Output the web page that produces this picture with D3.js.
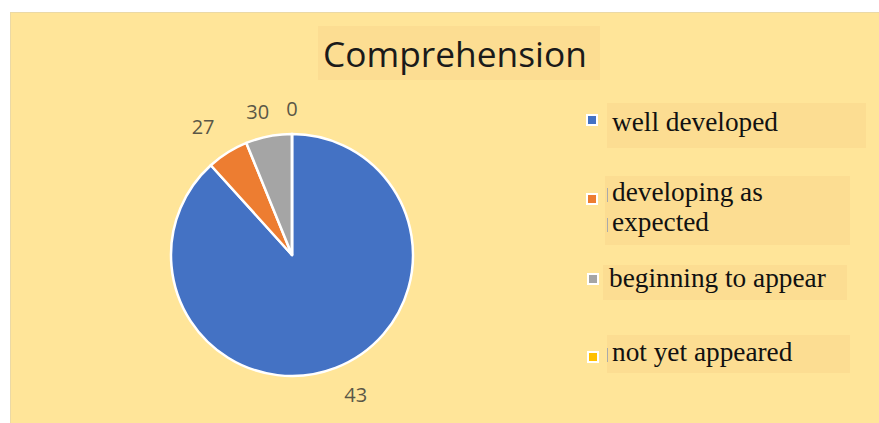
<!DOCTYPE html>
<html><head><meta charset="utf-8">
<script src="https://cdn.jsdelivr.net/npm/d3@7"></script>
<style>html,body{margin:0;padding:0;background:#fff;}svg{display:block;}</style>
</head><body>
<svg id="chart" width="879" height="423"></svg>
<script>
// Data
const categories = ["well developed", "developing as expected", "beginning to appear", "not yet appeared"];
const values = [43, 2.7, 3.0, 0];
const valueLabels = ["43", "27", "30", "0"];
const legendLines = [["well developed"], ["developing as", "expected"], ["beginning to appear"], ["not yet appeared"]];
const colors = ["#4472C4", "#ED7D31", "#A5A5A5", "#FFC000"];
const title = "Comprehension";

const svg = d3.select("#chart");
// panel background
svg.append("rect").attr("x", 10.5).attr("y", 12.5).attr("width", 880).attr("height", 420)
  .attr("fill", "#FFE599").attr("stroke", "#EBD9A6").attr("stroke-width", 1);

// title
svg.append("rect").attr("x", 318).attr("y", 26).attr("width", 282).attr("height", 54).attr("fill", "#FCDD92");
const t = svg.append("text").attr("x", 323).attr("y", 67)
  .attr("font-family", "'Open Sans', sans-serif").attr("font-size", 34).attr("fill", "#1a1a1a").text(title);
const tw = t.node().getComputedTextLength();
t.attr("font-size", 34 * 264 / tw);

// pie
const cx = 292, cy = 255, r = 121;
const pie = d3.pie().sort(null).value(d => d).startAngle(0).endAngle(2 * Math.PI);
const arcs = pie(values);
const arc = d3.arc().innerRadius(0).outerRadius(r);
const labelArc = d3.arc().innerRadius(152).outerRadius(152);
const g = svg.append("g").attr("transform", `translate(${cx},${cy})`);
g.selectAll("path.slice").data(arcs).join("path").attr("class", "slice")
  .attr("d", arc).attr("fill", (d, i) => colors[i])
  .attr("stroke", "#fff").attr("stroke-width", 2.5).attr("stroke-linejoin", "round");
const labelShift = [[9, -2], [-8, 1], [-5, 6], [0, 6]];
g.selectAll("text.lbl").data(arcs).join("text").attr("class", "lbl")
  .attr("transform", (d, i) => { const c = labelArc.centroid(d); return `translate(${c[0] + labelShift[i][0]},${c[1] + labelShift[i][1]})`; })
  .attr("text-anchor", "middle").attr("dy", "0.35em")
  .attr("font-family", "'Open Sans', sans-serif").attr("font-size", 20).attr("fill", "#5a5747")
  .text((d, i) => valueLabels[i]);

// legend
const legend = [
  {box: [607, 103, 259, 45], mark: [592, 120], base: 131},
  {box: [605, 176, 245, 69], mark: [592, 199], base: 201, bars: true},
  {box: [603, 265, 244, 35], mark: [593, 279], base: 287},
  {box: [607, 335, 243, 38], mark: [593, 357], base: 361, bars: true}
];
const lg = svg.append("g");
legend.forEach((L, i) => {
  lg.append("rect").attr("x", L.box[0]).attr("y", L.box[1]).attr("width", L.box[2]).attr("height", L.box[3]).attr("fill", "#FCDD92");
  lg.append("rect").attr("x", L.mark[0] - 6).attr("y", L.mark[1] - 6).attr("width", 12).attr("height", 12).attr("fill", "#fff");
  lg.append("rect").attr("x", L.mark[0] - 4).attr("y", L.mark[1] - 4).attr("width", 8).attr("height", 8).attr("fill", colors[i]);
  legendLines[i].forEach((line, j) => {
    const y = L.base + j * 30;
    lg.append("text").attr("x", i === 2 ? 609 : 612).attr("y", y)
      .attr("font-family", "'Liberation Serif', 'Times New Roman', serif").attr("font-size", 27.3)
      .attr("fill", "#111").text(line);
    if (L.bars) lg.append("line").attr("x1", 607.5).attr("x2", 607.5).attr("y1", y - 13).attr("y2", y + 1)
      .attr("stroke", "#aaa").attr("stroke-width", 1);
  });
});
</script>
</body></html>
